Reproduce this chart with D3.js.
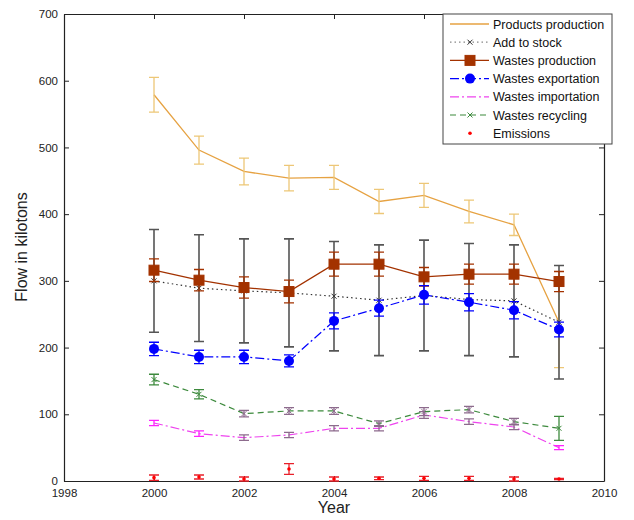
<!DOCTYPE html>
<html>
<head>
<meta charset="utf-8">
<script src="https://cdn.jsdelivr.net/npm/d3@7"></script>
<style>
  body { margin: 0; background: #fff; }
  svg { display: block; font-family: "Liberation Sans", Arial, sans-serif; }
</style>
</head>
<body>
<svg id="chart" width="634" height="520"></svg>
<script>
// ---------------- data ----------------
const years = [2000, 2001, 2002, 2003, 2004, 2005, 2006, 2007, 2008, 2009];
const productsProduction    = [579, 496, 464, 454, 455, 419, 428, 404, 384, 238];
const productsProductionErr = [26, 21, 20, 19, 18, 18, 18, 17, 16, 68];
const addToStock            = [300, 289, 285, 282, 277, 271, 278, 272, 270, 238];
const addToStockErr         = [77, 80, 78, 81, 82, 83, 83, 84, 84, 85];
const wastesProduction      = [316, 301, 290, 284, 325, 325, 306, 310, 310, 299];
const wastesProductionErr   = [17, 16, 16, 17, 18, 18, 14, 15, 15, 15];
const wastesExportation     = [198, 186, 186, 180, 240, 259, 279, 268, 256, 227];
const wastesExportationErr  = [10, 10, 10, 9, 12, 12, 14, 13, 13, 11];
const wastesImportation     = [87, 71, 65, 69, 79, 79, 99, 89, 81, 50];
const wastesImportationErr  = [4, 4, 4, 4, 4, 4, 5, 4, 4, 3];
const wastesRecycling       = [152, 130, 101, 105, 105, 86, 104, 107, 89, 79];
const wastesRecyclingErr    = [8, 7, 5, 5, 5, 4, 6, 5, 5, 18];
const emissions             = [5, 6, 3, 18, 3, 4, 4, 4, 3, 3];
const emissionsErr          = [4, 3, 3, 8, 3, 2, 3, 3, 3, 1];
const xTicks = [1998, 2000, 2002, 2004, 2006, 2008, 2010];
const yTicks = [0, 100, 200, 300, 400, 500, 600, 700];
const seriesNames = ["Products production", "Add to stock", "Wastes production",
  "Wastes exportation", "Wastes importation", "Wastes recycling", "Emissions"];

// ---------------- layout / style ----------------
const L = 64, R = 604, T = 14, B = 481;
const svg = d3.select("#chart");
const x = d3.scaleLinear().domain([1998, 2010]).range([L, R]);
const y = d3.scaleLinear().domain([0, 700]).range([B, T]);
const muted = "#8d6b8d";

const series = [
  { name: seriesNames[0], v: productsProduction, e: productsProductionErr, color: "#e6a242", err: "#edc777", dash: null, marker: "none", width: 1.3 },
  { name: seriesNames[1], v: addToStock, e: addToStockErr, color: "#333", err: "#555", dash: "1.5,3", marker: "x", width: 1.2 },
  { name: seriesNames[2], v: wastesProduction, e: wastesProductionErr, color: "#a33200", err: "#a33200", dash: null, marker: "square", width: 1.3 },
  { name: seriesNames[3], v: wastesExportation, e: wastesExportationErr, color: "#0000ff", err: "#0000ff", dash: "9,3,2,3", marker: "circle", width: 1.2 },
  { name: seriesNames[4], v: wastesImportation, e: wastesImportationErr, color: "#ee44ee", err: "#ff22ff", dash: "9,3,2,3", marker: "none", width: 1.2, mutedIdx: [2,3,4,5,6,7,8] },
  { name: seriesNames[5], v: wastesRecycling, e: wastesRecyclingErr, color: "#3d8a3d", err: "#3d8a3d", dash: "6,4", marker: "x", width: 1.2, mutedIdx: [2,3,4,5,6,7,8] },
  { name: seriesNames[6], v: emissions, e: emissionsErr, color: "#ff0000", err: "#e8202a", dash: null, marker: "dot", width: 1.2, noLine: true }
];

// ---------------- axes ----------------
const axisColor = "#222";
const gx = svg.append("g").attr("transform", `translate(0,${B})`)
  .call(d3.axisBottom(x).tickValues(xTicks).tickFormat(d3.format("d")).tickSizeInner(-5).tickSizeOuter(0).tickPadding(8));
const gy = svg.append("g").attr("transform", `translate(${L},0)`)
  .call(d3.axisLeft(y).tickValues(yTicks).tickSizeInner(-5).tickSizeOuter(0).tickPadding(6));
const gxt = svg.append("g").attr("transform", `translate(0,${T})`)
  .call(d3.axisTop(x).tickValues(xTicks).tickSizeInner(-5).tickSizeOuter(0).tickFormat(""));
const gyr = svg.append("g").attr("transform", `translate(${R},0)`)
  .call(d3.axisRight(y).tickValues(yTicks).tickSizeInner(-5).tickSizeOuter(0).tickFormat(""));
[gx, gy, gxt, gyr].forEach(g => {
  g.select(".domain").attr("stroke", axisColor).attr("stroke-width", 1.2);
  g.selectAll(".tick line").attr("stroke", axisColor);
  g.selectAll(".tick text").attr("fill", "#222").attr("font-size", 11.5)
    .attr("font-family", "'Liberation Sans', Arial, sans-serif");
});

svg.append("text").attr("x", 334).attr("y", 513).attr("text-anchor", "middle")
  .attr("font-size", 16).attr("fill", "#222").text("Year");
svg.append("text").attr("transform", "translate(27,247) rotate(-90)").attr("text-anchor", "middle")
  .attr("font-size", 16).attr("fill", "#222").text("Flow in kilotons");

// ---------------- plot ----------------
const plot = svg.append("g");
function drawMarker(g, type, cx, cy, color) {
  if (type === "square") {
    g.append("rect").attr("x", cx - 5).attr("y", cy - 5).attr("width", 10).attr("height", 10)
      .attr("fill", color).attr("stroke", color);
  } else if (type === "circle") {
    g.append("circle").attr("cx", cx).attr("cy", cy).attr("r", 5).attr("fill", color);
  } else if (type === "x") {
    const s = 2.5;
    g.append("path").attr("d", `M${cx-s},${cy-s}L${cx+s},${cy+s}M${cx-s},${cy+s}L${cx+s},${cy-s}`)
      .attr("stroke", color).attr("stroke-width", 1);
  } else if (type === "dot") {
    g.append("circle").attr("cx", cx).attr("cy", cy).attr("r", 1.8).attr("fill", color);
  }
}

series.forEach(s => {
  const g = plot.append("g");
  const pts = years.map((yr, i) => ({ yr, v: s.v[i], e: s.e[i], i }));
  if (!s.noLine) {
    g.append("path").datum(pts)
      .attr("d", d3.line().x(d => x(d.yr)).y(d => y(d.v)))
      .attr("fill", "none").attr("stroke", s.color).attr("stroke-width", s.width)
      .attr("stroke-dasharray", s.dash);
  }
  pts.forEach(d => {
    const c = (s.mutedIdx && s.mutedIdx.includes(d.i)) ? muted : s.err;
    const cx = x(d.yr), y1 = y(Math.max(0, d.v - d.e)), y2 = y(d.v + d.e), w = 5;
    g.append("path")
      .attr("d", `M${cx},${y1}L${cx},${y2}M${cx-w},${y1}L${cx+w},${y1}M${cx-w},${y2}L${cx+w},${y2}`)
      .attr("stroke", c).attr("stroke-width", s.name === "Add to stock" ? 1.6 : 1.3).attr("fill", "none");
    const mc = (s.mutedIdx && s.mutedIdx.includes(d.i)) ? muted : s.color;
    drawMarker(g, s.marker, cx, y(d.v), mc);
  });
});

// ---------------- legend ----------------
const lg = svg.append("g");
lg.append("rect").attr("x", 443).attr("y", 14).attr("width", 169).attr("height", 130)
  .attr("fill", "#fff").attr("stroke", "#444").attr("stroke-width", 1);
series.forEach((s, i) => {
  const ly = 24 + i * 18.2;
  if (!s.noLine) {
    lg.append("line").attr("x1", 450).attr("x2", 489).attr("y1", ly).attr("y2", ly)
      .attr("stroke", s.name === "Add to stock" ? "#888" : s.color).attr("stroke-width", s.width)
      .attr("stroke-dasharray", s.dash);
  }
  drawMarker(lg, s.marker, 470, ly, s.color);
  lg.append("text").attr("x", 493).attr("y", ly + 4.5).attr("font-size", 12.5)
    .attr("fill", "#111").text(s.name);
});
</script>
</body>
</html>
